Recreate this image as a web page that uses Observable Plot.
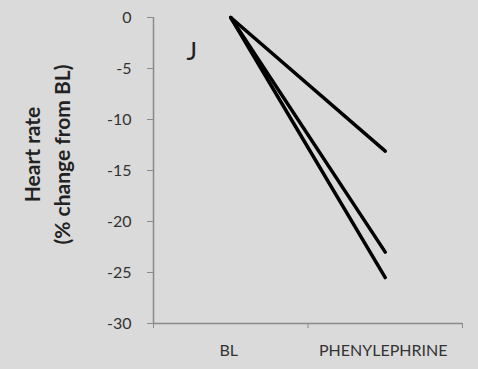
<!DOCTYPE html>
<html>
<head>
<meta charset="utf-8">
<script src="https://cdn.jsdelivr.net/npm/d3@7"></script>
<script src="https://cdn.jsdelivr.net/npm/@observablehq/plot@0.6"></script>
<style>
  html, body { margin: 0; padding: 0; background: #dadada; }
  #chart svg { display: block; background: linear-gradient(#dddad0 0 5px, #dadada 5px); }
</style>
</head>
<body>
<div id="chart"></div>
<script>
// Conditions along the x axis
const categories = ["BL", "PHENYLEPHRINE"];
// Heart rate change (% from BL), one line per subject
const subjectA = [0, -13.1];
const subjectB = [0, -23.0];
const subjectC = [0, -25.5];
const yTicks = [0, -5, -10, -15, -20, -25, -30];
const panelLetter = "J";
const yLabelLines = ["Heart rate", "(% change from BL)"];

// Long-form rows; each category sits in the middle of its slot (index + 0.5)
const rows = [];
[["A", subjectA], ["B", subjectB], ["C", subjectC]].forEach(([id, vals]) => {
  vals.forEach((v, i) => rows.push({subject: id, pos: i + 0.5, value: v}));
});

const axisGray = "#8a8a8a";
const textColor = "#333";
const font = "Lato, 'Open Sans', sans-serif";

const chart = Plot.plot({
  width: 478,
  height: 369,
  marginLeft: 153,
  marginRight: 16,
  marginTop: 17,
  marginBottom: 46,
  style: {fontFamily: font, background: "transparent"},
  x: {domain: [0, categories.length], axis: null},
  y: {domain: [-30, 0], axis: null},
  marks: [
    // axis lines
    Plot.ruleX([0], {y1: -30, y2: 0, stroke: axisGray, strokeWidth: 1.5}),
    Plot.ruleY([-30], {x1: 0, x2: categories.length, stroke: axisGray, strokeWidth: 1.5}),
    // y ticks and labels (plain hyphen for negatives)
    Plot.axisY({ticks: yTicks, tickFormat: (d) => String(d), tickSize: 6, tickPadding: 16, fontSize: 16, stroke: axisGray, fill: textColor, label: null}),
    // x slot boundary ticks
    Plot.axisX({ticks: d3.range(categories.length + 1), tickFormat: () => "", tickSize: 5, stroke: axisGray, label: null}),
    // x category labels
    Plot.axisX({ticks: categories.map((c, i) => i + 0.5), tickFormat: (t) => categories[t - 0.5], tickSize: 0, tickPadding: 21, fontSize: 16, letterSpacing: 2.4, dx: -2, fill: textColor, label: null}),
    // subject lines
    Plot.line(rows, {x: "pos", y: "value", z: "subject", stroke: "#000", strokeWidth: 3.5, strokeLinecap: "round", strokeLinejoin: "round"}),
    // panel letter
    Plot.text([panelLetter], {frameAnchor: "top-left", dx: 33, dy: 25, fontSize: 25, fill: "#222"}),
    // y axis title
    Plot.text([yLabelLines.join("\n")], {frameAnchor: "left", rotate: -90, dx: -108, dy: -16, textAnchor: "middle", lineAnchor: "middle", lineHeight: 1.45, letterSpacing: 0.8, fontWeight: "bold", fontSize: 21, fill: "#222"})
  ]
});
document.getElementById("chart").append(chart);
</script>
</body>
</html>
